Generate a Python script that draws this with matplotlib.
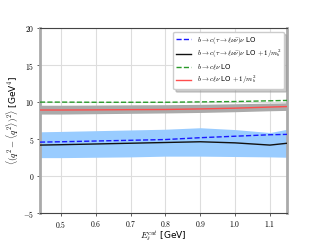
import matplotlib
matplotlib.use("Agg")
import matplotlib.pyplot as plt
from matplotlib.ticker import FuncFormatter

plt.rcParams['mathtext.fontset'] = 'cm'
plt.rcParams['font.family'] = ['DejaVu Sans']

# Data
ecut = [0.44, 0.5, 0.6, 0.7, 0.8, 0.9, 1.0, 1.1, 1.15]
tau_lo = [4.6, 4.65, 4.75, 4.85, 4.95, 5.2, 5.4, 5.6, 5.65]
tau_nlo = [4.2, 4.25, 4.35, 4.45, 4.55, 4.65, 4.5, 4.2, 4.45]
tau_band_lo = [2.5, 2.5, 2.55, 2.6, 2.7, 2.7, 2.65, 2.6, 2.55]
tau_band_hi = [6.0, 6.05, 6.15, 6.25, 6.35, 6.55, 6.3, 5.9, 6.35]
l_lo = [10.02, 10.02, 10.0, 10.0, 10.0, 10.05, 10.1, 10.2, 10.25]
l_nlo = [8.95, 8.95, 8.97, 9.0, 9.02, 9.1, 9.2, 9.35, 9.42]
l_band_lo = [8.4, 8.4, 8.45, 8.5, 8.55, 8.62, 8.72, 8.85, 8.9]
l_band_hi = [9.6, 9.6, 9.62, 9.65, 9.67, 9.72, 9.8, 9.88, 9.92]

xticks = [0.5, 0.6, 0.7, 0.8, 0.9, 1.0, 1.1]
yticks = [-5, 0, 5, 10, 15, 20]

fig = plt.figure(figsize=(3.2, 2.4), dpi=100)
ax = fig.add_axes([0.125, 0.1125, 0.773, 0.769])

ax.fill_between(ecut, tau_band_lo, tau_band_hi, color='#99ccff', linewidth=0, zorder=1)
ax.fill_between(ecut, l_band_lo, l_band_hi, color='#aaaaaa', linewidth=0, zorder=1)

ax.plot(ecut, tau_lo, '--', color='#1a1aff', lw=1.0, zorder=3,
        label=r'$b\to c(\tau\to\ell\nu\bar\nu)\nu$ LO')
ax.plot(ecut, tau_nlo, '-', color='#111111', lw=1.0, zorder=3,
        label=r'$b\to c(\tau\to\ell\nu\bar\nu)\nu$ LO $+\,1/m_b^2$')
ax.plot(ecut, l_lo, '--', color='#2a9a2a', lw=1.0, zorder=3,
        label=r'$b\to c\ell\nu$ LO')
ax.plot(ecut, l_nlo, '-', color='#ff4d4d', lw=1.0, zorder=3,
        label=r'$b\to c\ell\nu$ LO $+\,1/m_b^2$')

ax.set_xlim(0.44, 1.15)
ax.set_ylim(-5, 20)
ax.set_xticks(xticks)
ax.set_yticks(yticks)
ax.xaxis.set_major_formatter(FuncFormatter(lambda v, p: r'$%.1f$' % v))
ax.yaxis.set_major_formatter(FuncFormatter(lambda v, p: r'$%d$' % v))
ax.tick_params(labelsize=5.5, length=2.5, width=0.6, color='#444444', pad=1.5)
ax.grid(True, color='#dddddd', lw=0.8, zorder=0)
ax.set_axisbelow(True)

for s in ['top', 'bottom']:
    ax.spines[s].set_color('#444444')
    ax.spines[s].set_linewidth(0.8)
for s in ['left', 'right']:
    ax.spines[s].set_color('#aaaaaa')
    ax.spines[s].set_linewidth(2.0)

ax.set_xlabel(r'$E_\ell^{cut}$ [GeV]', fontsize=6.5, labelpad=0.5)
ax.set_ylabel(r'$\langle(q^2-\langle q^2\rangle)^2\rangle$ [GeV$^4$]', fontsize=6.5, labelpad=1.5)

leg = ax.legend(loc='upper right', fontsize=5, shadow={'color': '#999999', 'alpha': 0.5},
                framealpha=1, handlelength=2.2, borderpad=0.4, labelspacing=0.35,
                borderaxespad=0.5)
leg.get_frame().set_edgecolor('#cccccc')

fig.savefig('out.png', dpi=100)
